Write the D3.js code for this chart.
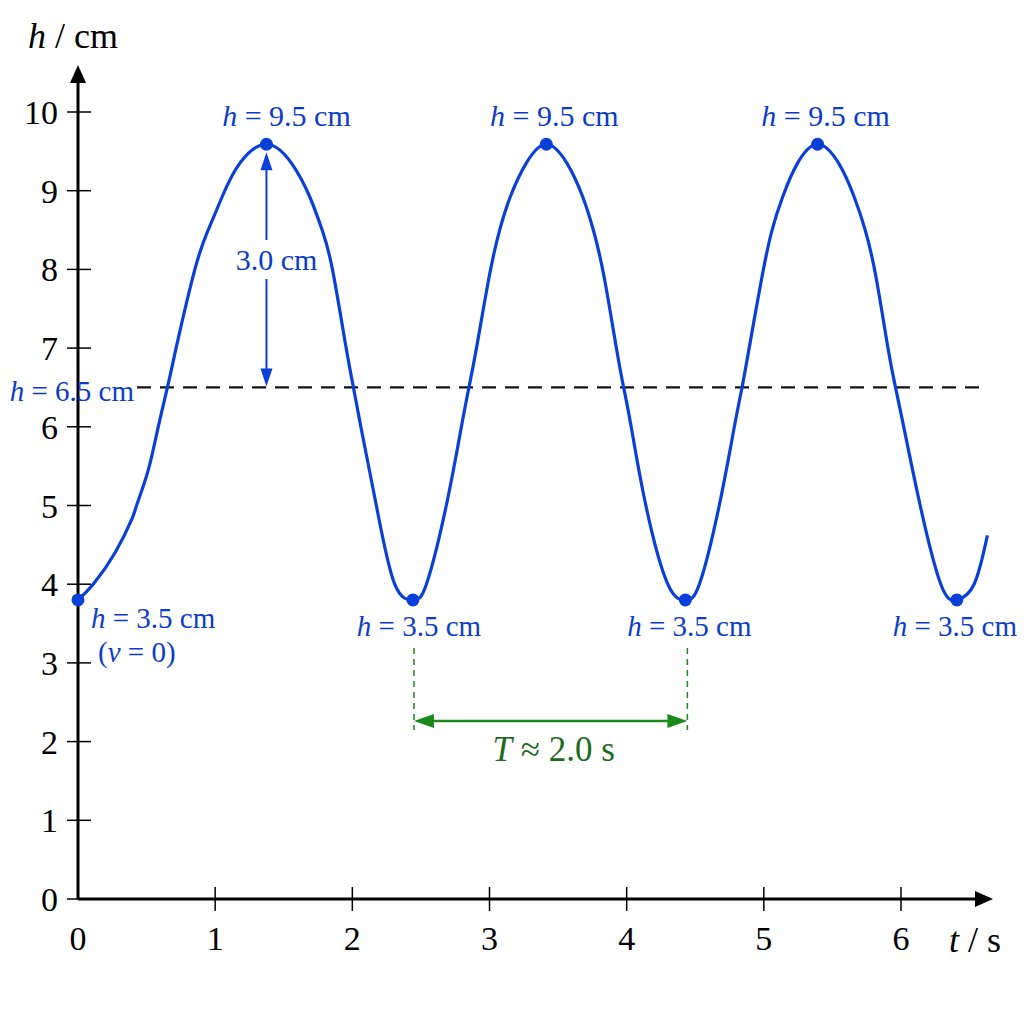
<!DOCTYPE html>
<html>
<head>
<meta charset="utf-8">
<script src="https://cdn.jsdelivr.net/npm/d3@7"></script>
<style>
  body { margin: 0; background: #fff; }
  text { font-family: "Liberation Serif", "DejaVu Serif", serif; }
</style>
</head>
<body>
<div id="chart"><svg width="1024" height="1024"></svg></div>
<script>
// values
var tValues = [0, 0.111, 0.270, 0.391, 0.427, 0.512, 0.585, 0.652, 0.715, 0.852, 0.949, 1.05, 1.18, 1.374,
               1.556, 1.69, 1.78, 1.855, 1.955, 2.008, 2.062, 2.175, 2.309, 2.442,
               2.54, 2.685, 2.795, 2.85, 2.905, 2.998, 3.074, 3.151, 3.268, 3.414,
               3.564, 3.680, 3.757, 3.835, 3.925, 3.978, 4.033, 4.14, 4.30, 4.428,
               4.53, 4.675, 4.785, 4.841, 4.893, 4.987, 5.060, 5.137, 5.246, 5.392,
               5.545, 5.659, 5.739, 5.817, 5.905, 5.96, 6.02, 6.14, 6.29, 6.407,
               6.533, 6.630];
var hValues = [3.80, 4.0, 4.4, 4.82, 5.0, 5.45, 6.0, 6.5, 7.0, 8.0, 8.5, 8.92, 9.35, 9.59,
               9.35, 8.92, 8.5, 8.0, 7.0, 6.5, 6.0, 5.0, 4.0, 3.80,
               4.0, 5.0, 6.0, 6.5, 7.0, 7.91, 8.5, 8.92, 9.35, 9.59,
               9.35, 8.92, 8.5, 7.91, 7.0, 6.5, 6.0, 5.0, 4.0, 3.80,
               4.0, 5.0, 6.0, 6.5, 7.0, 7.91, 8.5, 8.92, 9.35, 9.59,
               9.35, 8.92, 8.5, 7.91, 7.0, 6.5, 6.0, 5.0, 4.0, 3.80,
               4.0, 4.62];

var peakT = [1.374, 3.414, 5.392];
var peakH = 9.59;
var troughT = [2.442, 4.428, 6.407];
var troughH = 3.80;
var startH = 3.80;

var xTicks = [0, 1, 2, 3, 4, 5, 6];
var yTicks = [0, 1, 2, 3, 4, 5, 6, 7, 8, 9, 10];

var equilibrium = 6.5;
var peakText = "9.5";
var troughText = "3.5";
var equilText = "6.5";
var ampText = "3.0 cm";
var periodText = "2.0";

function chart() {
  var svg = d3.select("#chart svg");
  var blue = "#0a3fd8", blueText = "#0b3cc9", green = "#1b8a1b", greenText = "#1d6b1d";

  var x = d3.scaleLinear().domain([0, 6]).range([78, 901]);
  var y = d3.scaleLinear().domain([0, 10]).range([899, 112]);

  // rich text helper: parts = [[string, italic], ...]
  function rich(g, parts, px, py, size, fill, anchor) {
    var t = g.append("text")
      .attr("x", px).attr("y", py)
      .attr("text-anchor", anchor || "start")
      .style("font-size", size + "px")
      .attr("fill", fill);
    parts.forEach(function(p) {
      t.append("tspan").style("font-style", p[1] ? "italic" : "normal").text(p[0]);
    });
    return t;
  }

  // dashed equilibrium line
  svg.append("line")
    .attr("x1", 137).attr("x2", 986)
    .attr("y1", y(equilibrium)).attr("y2", y(equilibrium))
    .attr("stroke", "#111").attr("stroke-width", 2.2)
    .attr("stroke-dasharray", "14,9");

  // axes
  var ax = svg.append("g");
  ax.append("line").attr("x1", x(0)).attr("x2", 978).attr("y1", y(0)).attr("y2", y(0))
    .attr("stroke", "#000").attr("stroke-width", 3);
  ax.append("path").attr("d", "M993," + y(0) + " L975," + (y(0) - 8) + " L975," + (y(0) + 8) + " Z")
    .attr("fill", "#000");
  ax.append("line").attr("x1", x(0)).attr("x2", x(0)).attr("y1", y(0)).attr("y2", 80)
    .attr("stroke", "#000").attr("stroke-width", 3);
  ax.append("path").attr("d", "M" + x(0) + ",65 L" + (x(0) - 8) + ",83 L" + (x(0) + 8) + ",83 Z")
    .attr("fill", "#000");

  ax.selectAll(".xt").data(xTicks.slice(1)).enter().append("line")
    .attr("x1", d => x(d)).attr("x2", d => x(d))
    .attr("y1", y(0) - 12).attr("y2", y(0) + 12)
    .attr("stroke", "#000").attr("stroke-width", 1.5);
  ax.selectAll(".yt").data(yTicks).enter().append("line")
    .attr("x1", x(0) - 11).attr("x2", x(0) + 13)
    .attr("y1", d => y(d)).attr("y2", d => y(d))
    .attr("stroke", "#000").attr("stroke-width", 1.5);

  ax.selectAll(".xl").data(xTicks).enter().append("text")
    .attr("x", d => x(d)).attr("y", 950)
    .attr("text-anchor", "middle")
    .style("font-size", "34px")
    .text(d => d);
  ax.selectAll(".yl").data(yTicks).enter().append("text")
    .attr("x", 58).attr("y", d => y(d) + 12)
    .attr("text-anchor", "end")
    .style("font-size", "34px")
    .text(d => d);

  rich(svg, [["h", true], [" / cm", false]], 28, 48, 36, "#000");
  rich(svg, [["t", true], [" / s", false]], 949, 952, 36, "#000");

  // curve
  var pts = tValues.map(function(t, i) { return [t, hValues[i]]; });
  var line = d3.line().x(d => x(d[0])).y(d => y(d[1])).curve(d3.curveNatural);
  svg.append("path").datum(pts)
    .attr("d", line)
    .attr("fill", "none")
    .attr("stroke", blue)
    .attr("stroke-width", 3.2);

  // dots
  var dots = [[0, startH]].concat(peakT.map(t => [t, peakH]), troughT.map(t => [t, troughH]));
  svg.selectAll(".dot").data(dots).enter().append("circle")
    .attr("cx", d => x(d[0])).attr("cy", d => y(d[1]))
    .attr("r", 6.5).attr("fill", blue);

  // labels
  var peakShift = [20, 8, 8], troughShift = [6, 4, -2];
  peakT.forEach(function(t, i) {
    rich(svg, [["h", true], [" = " + peakText + " cm", false]], x(t) + peakShift[i], 126, 30, blueText, "middle");
  });
  troughT.forEach(function(t, i) {
    rich(svg, [["h", true], [" = " + troughText + " cm", false]], x(t) + troughShift[i], 636, 29, blueText, "middle");
  });
  rich(svg, [["h", true], [" = " + troughText + " cm", false]], 91, 628, 29, blueText);
  rich(svg, [["(", false], ["v", true], [" = 0)", false]], 98, 662, 29, blueText);
  rich(svg, [["h", true], [" = " + equilText + " cm", false]], 134, 401, 29, blueText, "end");

  // amplitude arrow
  var ax1 = x(peakT[0]);
  var top = y(peakH) + 8, bot = y(equilibrium) - 1;
  svg.append("line").attr("x1", ax1).attr("x2", ax1).attr("y1", top + 10).attr("y2", 240)
    .attr("stroke", blue).attr("stroke-width", 2);
  svg.append("line").attr("x1", ax1).attr("x2", ax1).attr("y1", 279).attr("y2", bot - 10)
    .attr("stroke", blue).attr("stroke-width", 2);
  svg.append("path").attr("d", "M" + ax1 + "," + top + " L" + (ax1 - 6) + "," + (top + 18) + " L" + (ax1 + 6) + "," + (top + 18) + " Z")
    .attr("fill", blue);
  svg.append("path").attr("d", "M" + ax1 + "," + bot + " L" + (ax1 - 6) + "," + (bot - 18) + " L" + (ax1 + 6) + "," + (bot - 18) + " Z")
    .attr("fill", blue);
  rich(svg, [[ampText, false]], ax1 + 10, 270, 30, blueText, "middle");

  // period marker
  var p1 = x(troughT[0]) + 1, p2 = x(troughT[1]) + 2;
  [p1, p2].forEach(function(px) {
    svg.append("line").attr("x1", px).attr("x2", px).attr("y1", 648).attr("y2", 730)
      .attr("stroke", green).attr("stroke-width", 1.5).attr("stroke-dasharray", "6,5");
  });
  svg.append("line").attr("x1", p1 + 14).attr("x2", p2 - 14).attr("y1", 721).attr("y2", 721)
    .attr("stroke", green).attr("stroke-width", 2.5);
  svg.append("path").attr("d", "M" + p1 + ",721 L" + (p1 + 20) + ",714 L" + (p1 + 20) + ",728 Z").attr("fill", green);
  svg.append("path").attr("d", "M" + p2 + ",721 L" + (p2 - 20) + ",714 L" + (p2 - 20) + ",728 Z").attr("fill", green);
  rich(svg, [["T", true], [" \u2248 " + periodText + " s", false]], (p1 + p2) / 2 + 3, 761, 35, greenText, "middle");
}

chart();
</script>
</body>
</html>
